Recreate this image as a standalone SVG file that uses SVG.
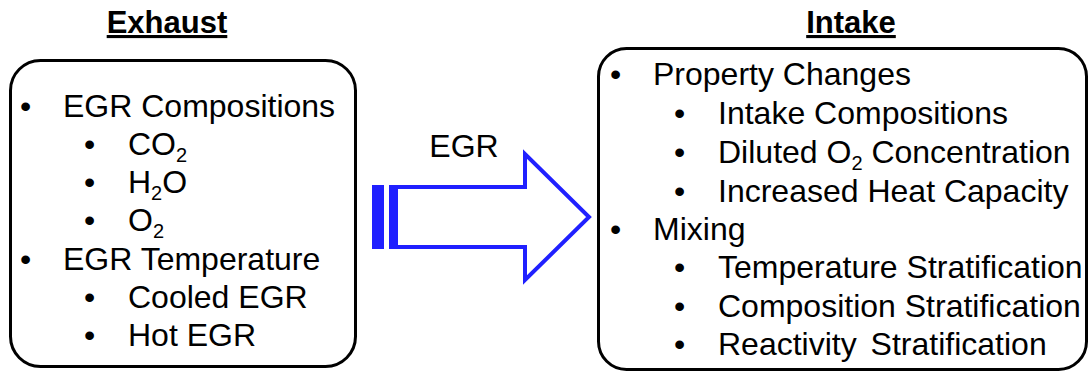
<svg xmlns="http://www.w3.org/2000/svg" width="1089" height="372" viewBox="0 0 1089 372">
  <style>
    text { font-family: "Liberation Sans", Arial, sans-serif; fill: #000; }
    .head { font-size: 31px; font-weight: bold; text-decoration: underline; }
    .item { font-size: 32px; }
    .sub { font-size: 20px; }
    .box { fill: #fff; stroke: #000; stroke-width: 3; }
    .arrow { fill: #fff; stroke: #2020ff; stroke-width: 4; stroke-linejoin: miter; }
    .stripe { fill: #2020ff; }
  </style>
  <rect width="1089" height="372" fill="#fff"/>

  <!-- Exhaust side -->
  <g id="exhaust">
    <text class="head" x="167" y="33" text-anchor="middle">Exhaust</text>
    <rect class="box" x="10.5" y="60.5" width="345" height="306" rx="30" ry="30"/>
    <text class="item" x="20" y="117">•</text><text class="item" x="63" y="117">EGR Compositions</text>
    <text class="item" x="84" y="155">•</text><text class="item" x="128" y="155">CO<tspan class="sub" dy="7">2</tspan></text>
    <text class="item" x="84" y="193">•</text><text class="item" x="128" y="193">H<tspan class="sub" dy="7">2</tspan><tspan dy="-7">O</tspan></text>
    <text class="item" x="84" y="231">•</text><text class="item" x="128" y="231">O<tspan class="sub" dy="7">2</tspan></text>
    <text class="item" x="20" y="270">•</text><text class="item" x="63" y="270">EGR Temperature</text>
    <text class="item" x="84" y="308">•</text><text class="item" x="128" y="308">Cooled EGR</text>
    <text class="item" x="84" y="346">•</text><text class="item" x="128" y="346">Hot EGR</text>
  </g>

  <!-- EGR arrow -->
  <g id="connectors">
    <text class="item" x="464" y="157" text-anchor="middle">EGR</text>
    <rect class="stripe" x="372" y="185" width="12" height="64"/>
    <rect class="stripe" x="389" y="185" width="6" height="64"/>
    <polygon class="arrow" points="396,187 525,187 525,154 589,217 525,280 525,247 396,247"/>
  </g>

  <!-- Intake side -->
  <g id="intake">
    <text class="head" x="851" y="33" text-anchor="middle">Intake</text>
    <rect class="box" x="598.5" y="48.5" width="488" height="321" rx="28" ry="28"/>
    <text class="item" x="610" y="85">•</text><text class="item" x="653" y="85">Property Changes</text>
    <text class="item" x="674" y="124">•</text><text class="item" x="718" y="124">Intake Compositions</text>
    <text class="item" x="674" y="163">•</text><text class="item" x="718" y="163">Diluted O<tspan class="sub" dy="7">2</tspan><tspan dy="-7"> Concentration</tspan></text>
    <text class="item" x="674" y="202">•</text><text class="item" x="718" y="202">Increased Heat Capacity</text>
    <text class="item" x="610" y="240">•</text><text class="item" x="653" y="240">Mixing</text>
    <text class="item" x="674" y="278">•</text><text class="item" x="718" y="278">Temperature Stratification</text>
    <text class="item" x="674" y="317">•</text><text class="item" x="718" y="317">Composition Stratification</text>
    <text class="item" x="674" y="355">•</text><text class="item" x="718" y="355">Reactivity <tspan dx="5">Stratification</tspan></text>
  </g>
</svg>
